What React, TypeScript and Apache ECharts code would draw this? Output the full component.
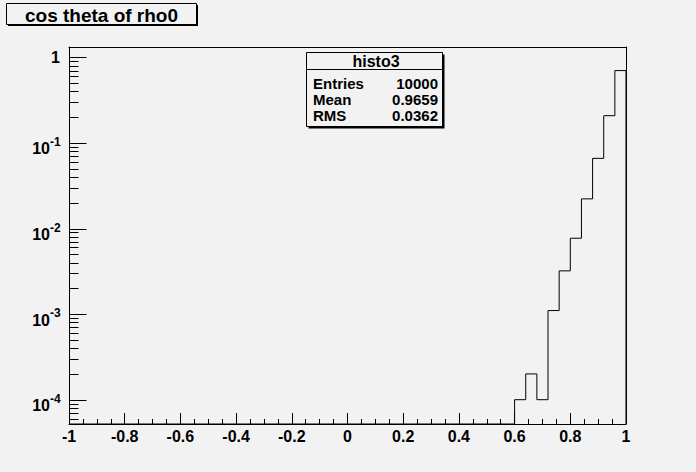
import React, { useEffect, useRef } from 'react';
import * as echarts from 'echarts';

// ---- data ----
const titleText = 'cos theta of rho0';
const histName = 'histo3';
const statLabels = ['Entries', 'Mean', 'RMS'];
const statValues = ['10000', '0.9659', '0.0362'];

const xMin = -1;
const xMax = 1;
const xInterval = 0.2;
const yMin = 5.2e-5;
const yMax = 1.32;

const binWidth = 0.04;
const binLowEdges = [0.6, 0.64, 0.68, 0.72, 0.76, 0.8, 0.84, 0.88, 0.92, 0.96];
const binContents = [1e-4, 2e-4, 1e-4, 1.1e-3, 3.2e-3, 7.7e-3, 0.0222, 0.066, 0.208, 0.7];

const yMajorTicks = [1e-4, 1e-3, 1e-2, 1e-1, 1];
const yMajorBase = ['10', '10', '10', '10', '1'];
const yMajorExp = ['-4', '-3', '-2', '-1', ''];
const yMinorMultipliers = [2, 3, 4, 5, 6, 7, 8, 9];
const yMinorDecades = [1e-5, 1e-4, 1e-3, 1e-2, 1e-1];

const BG = '#f2f2f2';
const FONT = '"Liberation Sans", Arial, Helvetica, sans-serif';

export default function App() {
  const ref = useRef<HTMLDivElement>(null);

  useEffect(() => {
    if (!ref.current) return;
    const chart = echarts.init(ref.current, undefined, { renderer: 'svg' });

    // step outline points
    const stepPoints: number[][] = [[xMin, yMin]];
    binLowEdges.forEach((lo, i) => stepPoints.push([lo, binContents[i]]));
    const last = binLowEdges.length - 1;
    stepPoints.push([binLowEdges[last] + binWidth, binContents[last]]);
    stepPoints.push([xMax, yMin]);

    const tickData: number[][] = [];
    yMajorTicks.forEach((v) => tickData.push([xMin, v, 1]));
    yMinorDecades.forEach((d) =>
      yMinorMultipliers.forEach((m) => {
        const v = d * m;
        if (v >= yMin && v <= yMax) tickData.push([xMin, v, 0]);
      })
    );

    const labelData = yMajorTicks.map((v, i) => [xMin, v, i]);

    chart.setOption({
      animation: false,
      backgroundColor: BG,
      grid: { left: 69, right: 70, top: 47, bottom: 48, containLabel: false },
      xAxis: [
        {
          type: 'value',
          min: xMin,
          max: xMax,
          interval: xInterval,
          axisLine: { show: true, onZero: false, lineStyle: { color: '#000', width: 1 } },
          axisTick: { show: true, inside: true, length: 11, lineStyle: { color: '#000', width: 1 } },
          minorTick: { show: true, splitNumber: 4, length: 5, lineStyle: { color: '#000', width: 1 } },
          splitLine: { show: false },
          axisLabel: {
            show: true,
            margin: 4,
            color: '#000',
            fontFamily: FONT,
            fontWeight: 'bold',
            fontSize: 16,
            showMinLabel: true,
            showMaxLabel: true,
            formatter: (v: number) => String(Math.round(v * 10) / 10),
          },
        },
        {
          type: 'value',
          position: 'top',
          min: xMin,
          max: xMax,
          axisLine: { show: true, onZero: false, lineStyle: { color: '#000', width: 1 } },
          axisTick: { show: false },
          axisLabel: { show: false },
          splitLine: { show: false },
        },
      ],
      yAxis: [
        {
          type: 'log',
          min: yMin,
          max: yMax,
          axisLine: { show: true, onZero: false, lineStyle: { color: '#000', width: 1 } },
          axisTick: { show: false },
          axisLabel: { show: false },
          splitLine: { show: false },
        },
        {
          type: 'value',
          position: 'right',
          min: 0,
          max: 1,
          axisLine: { show: true, onZero: false, lineStyle: { color: '#000', width: 1 } },
          axisTick: { show: false },
          axisLabel: { show: false },
          splitLine: { show: false },
        },
      ],
      series: [
        {
          type: 'line',
          name: histName,
          step: 'end',
          data: stepPoints,
          xAxisIndex: 0,
          yAxisIndex: 0,
          showSymbol: false,
          symbol: 'none',
          clip: false,
          lineStyle: { color: '#000', width: 1 },
          silent: true,
        },
        {
          type: 'custom',
          coordinateSystem: 'cartesian2d',
          xAxisIndex: 0,
          yAxisIndex: 0,
          clip: false,
          silent: true,
          data: tickData,
          encode: { x: 0, y: 1 },
          renderItem: (_p: any, api: any) => {
            const pt = api.coord([api.value(0), api.value(1)]);
            const len = api.value(2) ? 17 : 9;
            const y = Math.round(pt[1]) + 0.5;
            const x = Math.round(pt[0]) + 0.5;
            return {
              type: 'line',
              shape: { x1: x, y1: y, x2: x + len, y2: y },
              style: { stroke: '#000', lineWidth: 1 },
            };
          },
        },
        {
          type: 'custom',
          coordinateSystem: 'cartesian2d',
          xAxisIndex: 0,
          yAxisIndex: 0,
          clip: false,
          silent: true,
          data: labelData,
          encode: { x: 0, y: 1 },
          renderItem: (_p: any, api: any) => {
            const pt = api.coord([api.value(0), api.value(1)]);
            const i = api.value(2);
            const exp = yMajorExp[i];
            if (!exp) {
              return {
                type: 'text',
                x: pt[0] - 9,
                y: pt[1],
                style: {
                  text: yMajorBase[i],
                  fill: '#000',
                  font: `bold 16px ${FONT}`,
                  align: 'right',
                  verticalAlign: 'middle',
                },
              };
            }
            return {
              type: 'group',
              children: [
                {
                  type: 'text',
                  x: pt[0] - 19,
                  y: pt[1] + 6,
                  style: {
                    text: yMajorBase[i],
                    fill: '#000',
                    font: `bold 16px ${FONT}`,
                    align: 'right',
                    verticalAlign: 'middle',
                  },
                },
                {
                  type: 'text',
                  x: pt[0] - 19,
                  y: pt[1] - 1,
                  style: {
                    text: exp,
                    fill: '#000',
                    font: `bold 12px ${FONT}`,
                    align: 'left',
                    verticalAlign: 'middle',
                  },
                },
              ],
            };
          },
        },
      ],
      graphic: [
        // title box
        { type: 'rect', shape: { x: 8, y: 5, width: 190, height: 21 }, style: { fill: '#000' }, z: 10 },
        {
          type: 'rect',
          shape: { x: 6.5, y: 3.5, width: 190, height: 21 },
          style: { fill: BG, stroke: '#000', lineWidth: 1 },
          z: 11,
        },
        {
          type: 'text',
          x: 101.5,
          y: 15,
          style: {
            text: titleText,
            fill: '#000',
            font: `bold 19px ${FONT}`,
            align: 'center',
            verticalAlign: 'middle',
          },
          z: 12,
        },
        // stats box
        { type: 'rect', shape: { x: 308.5, y: 54.5, width: 136, height: 74 }, style: { fill: '#000' }, z: 10 },
        {
          type: 'rect',
          shape: { x: 306.5, y: 52.5, width: 136, height: 74 },
          style: { fill: BG, stroke: '#000', lineWidth: 1 },
          z: 11,
        },
        {
          type: 'line',
          shape: { x1: 306.5, y1: 69.5, x2: 442.5, y2: 69.5 },
          style: { stroke: '#000', lineWidth: 1 },
          z: 12,
        },
        {
          type: 'text',
          x: 376,
          y: 61,
          style: {
            text: histName,
            fill: '#000',
            font: `bold 16px ${FONT}`,
            align: 'center',
            verticalAlign: 'middle',
          },
          z: 12,
        },
        ...statLabels.map((lab, i) => ({
          type: 'text',
          x: 313,
          y: 83 + i * 16,
          style: {
            text: lab,
            fill: '#000',
            font: `bold 15px ${FONT}`,
            align: 'left',
            verticalAlign: 'middle',
          },
          z: 12,
        })),
        ...statValues.map((val, i) => ({
          type: 'text',
          x: 438,
          y: 83 + i * 16,
          style: {
            text: val,
            fill: '#000',
            font: `bold 15px ${FONT}`,
            align: 'right',
            verticalAlign: 'middle',
          },
          z: 12,
        })),
      ],
    });

    return () => {
      chart.dispose();
    };
  }, []);

  return (
    <div
      ref={ref}
      style={{ position: 'fixed', left: 0, top: 0, width: 696, height: 472, background: BG }}
    />
  );
}
